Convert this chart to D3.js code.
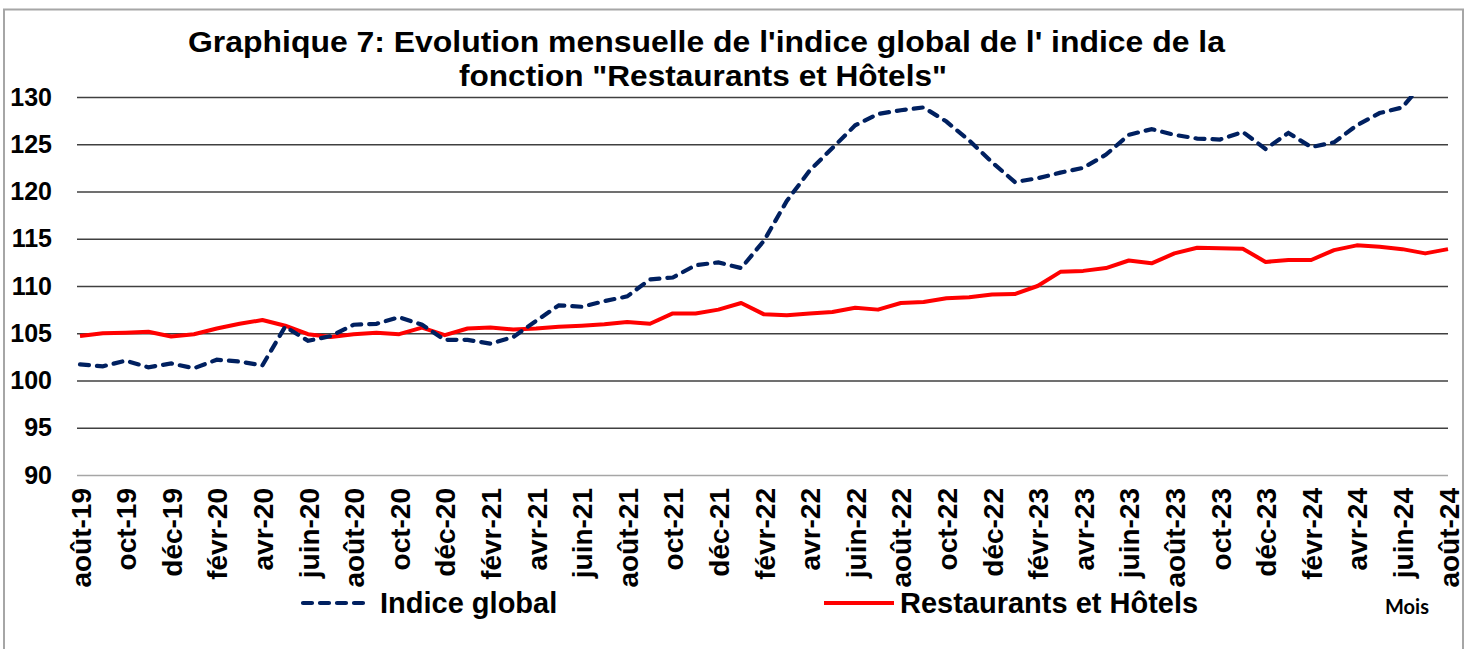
<!DOCTYPE html>
<html>
<head>
<meta charset="utf-8">
<script src="https://cdn.jsdelivr.net/npm/d3@7"></script>
<style>
  body { margin:0; background:#fff; }
  text { font-family:"Liberation Sans", Arial, sans-serif; font-weight:bold; fill:#000; }
</style>
</head>
<body>
<svg width="1472" height="649"></svg>
<script>
// données
var mois = ["août-19","sept-19","oct-19","nov-19","déc-19","janv-20","févr-20","mars-20","avr-20","mai-20",
            "juin-20","juil-20","août-20","sept-20","oct-20","nov-20","déc-20","janv-21","févr-21","mars-21",
            "avr-21","mai-21","juin-21","juil-21","août-21","sept-21","oct-21","nov-21","déc-21","janv-22",
            "févr-22","mars-22","avr-22","mai-22","juin-22","juil-22","août-22","sept-22","oct-22","nov-22",
            "déc-22","janv-23","févr-23","mars-23","avr-23","mai-23","juin-23","juil-23","août-23","sept-23",
            "oct-23","nov-23","déc-23","janv-24","févr-24","mars-24","avr-24","mai-24","juin-24","juil-24","août-24"];

var indiceGlobal = [101.7,101.5,102.1,101.4,101.8,101.3,102.2,102.0,101.6,105.7,
                    104.2,104.7,105.9,106.0,106.7,105.9,104.3,104.3,103.9,104.6,
                    106.3,107.95,107.8,108.4,108.9,110.7,110.9,112.2,112.5,111.9,
                    114.8,119.0,122.2,124.6,127.0,128.2,128.6,128.9,127.4,125.4,
                    123.1,121.0,121.4,122.0,122.5,123.9,126.0,126.6,126.0,125.6,
                    125.5,126.3,124.5,126.2,124.7,125.2,127.0,128.3,128.9,131.8,132.5];

var restaurants = [104.7,105.0,105.05,105.15,104.65,104.9,105.5,106.0,106.4,105.8,
                   104.9,104.6,104.9,105.05,104.9,105.6,104.8,105.5,105.6,105.4,
                   105.5,105.7,105.8,105.95,106.2,106.0,107.1,107.1,107.5,108.2,
                   107.0,106.9,107.1,107.25,107.7,107.5,108.2,108.3,108.7,108.8,
                   109.1,109.15,110.0,111.5,111.6,111.9,112.7,112.4,113.45,114.05,
                   114.0,113.95,112.55,112.75,112.75,113.8,114.3,114.15,113.9,113.45,113.9];

var yTicks = [90,95,100,105,110,115,120,125,130];
var titre = ["Graphique 7: Evolution mensuelle de l'indice global de l' indice de la",
             "fonction \"Restaurants et Hôtels\""];

var svg = d3.select("svg");
var marge = {left:80, right:1448, top:97, bottom:475};

var x = d3.scalePoint().domain(mois).range([marge.left, marge.right]);
var y = d3.scaleLinear().domain([90,130]).range([marge.bottom, marge.top]);

// cadre
svg.append("rect")
  .attr("x",4).attr("y",9.5).attr("width",1459).attr("height",660)
  .attr("fill","none").attr("stroke","#a6a6a6").attr("stroke-width",2);

// titre
svg.append("text").attr("x",188).attr("y",52)
  .attr("font-size",29).attr("textLength",1037).attr("lengthAdjust","spacingAndGlyphs")
  .text(titre[0]);
svg.append("text").attr("x",459).attr("y",86)
  .attr("font-size",29).attr("textLength",488).attr("lengthAdjust","spacingAndGlyphs")
  .text(titre[1]);

// grille + axe y
var yAxis = d3.axisLeft(y).tickValues(yTicks).tickSize(-(marge.right-marge.left+3)).tickPadding(25);
var gy = svg.append("g").attr("transform","translate("+(marge.left-3)+",0)").call(yAxis);
gy.select(".domain").remove();
gy.selectAll(".tick line").attr("stroke","#404040").attr("stroke-width",1.6);
gy.selectAll(".tick").filter(function(d){ return d==90; }).select("line").attr("stroke","#a6a6a6");
gy.selectAll(".tick text").attr("font-size",25).attr("fill","#000")
  .attr("font-family","Liberation Sans, Arial, sans-serif").attr("font-weight","bold");

// axe x : une étiquette sur deux
var xAxis = d3.axisBottom(x)
  .tickValues(mois.filter(function(d,i){ return i%2==0; }))
  .tickSize(0);
var gx = svg.append("g").attr("transform","translate(0,"+marge.bottom+")").call(xAxis);
gx.select(".domain").remove();
gx.selectAll(".tick text")
  .attr("font-size",28).attr("fill","#000")
  .attr("font-family","Liberation Sans, Arial, sans-serif").attr("font-weight","bold")
  .attr("text-anchor","end")
  .attr("transform","translate(0,13) rotate(-90)")
  .attr("x",0).attr("y",0).attr("dy","0.36em");

// zone de tracé (la série globale dépasse 130 à la fin)
svg.append("clipPath").attr("id","zone")
  .append("rect").attr("x",0).attr("y",marge.top-1).attr("width",1472).attr("height",marge.bottom-marge.top+10);

var ligne = d3.line()
  .x(function(d,i){ return x(mois[i]); })
  .y(function(d){ return y(d); });

svg.append("path").datum(restaurants)
  .attr("d",ligne).attr("fill","none")
  .attr("stroke","#ff0000").attr("stroke-width",4).attr("stroke-linejoin","round");

svg.append("path").datum(indiceGlobal)
  .attr("clip-path","url(#zone)")
  .attr("d",ligne).attr("fill","none")
  .attr("stroke","#002060").attr("stroke-width",4.2)
  .attr("stroke-dasharray","9,8").attr("stroke-linecap","round");

// légende
var leg = [
  {nom:"Indice global", x1:303, x2:370, tx:380, couleur:"#002060", dash:"9,8"},
  {nom:"Restaurants et Hôtels", x1:824, x2:894, tx:900, couleur:"#ff0000", dash:null}
];
leg.forEach(function(l){
  svg.append("line").attr("x1",l.x1).attr("x2",l.x2).attr("y1",603).attr("y2",603)
    .attr("stroke",l.couleur).attr("stroke-width",4.2)
    .attr("stroke-dasharray",l.dash).attr("stroke-linecap",l.dash ? "round" : "butt");
  svg.append("text").attr("x",l.tx).attr("y",613).attr("font-size",29).text(l.nom);
});

svg.append("text").attr("x",1385).attr("y",614)
  .attr("font-size",20).style("font-family","Lato, 'Open Sans', sans-serif")
  .text("Mois");
</script>
</body>
</html>
